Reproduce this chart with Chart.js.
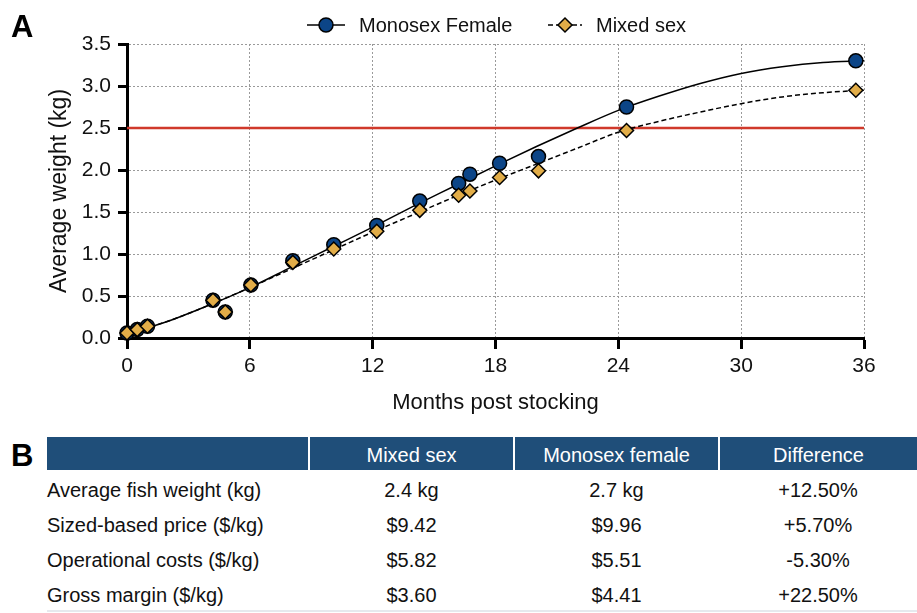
<!DOCTYPE html>
<html>
<head>
<meta charset="utf-8">
<script src="https://cdn.jsdelivr.net/npm/chart.js@4"></script>
<style>
  body { margin: 0; background: #fff; font-family: "Liberation Sans", Arial, sans-serif; }
  #wrap { position: relative; width: 917px; height: 613px; overflow: hidden; }
  #chartBox { position: absolute; left: 0; top: 0; width: 917px; height: 420px; }
  .panel { position: absolute; font-weight: bold; font-size: 31px; color: #000; line-height: 1; }
  table { position: absolute; left: 47px; top: 437px; width: 870px; border-collapse: collapse; font-size: 20px; color: #111; }
  th { background: #1f4e79; color: #fff; font-weight: normal; height: 30px; padding: 3px 0 0 0; border-left: 2px solid #fff; }
  th:first-child { border-left: none; }
  td { height: 29px; padding: 6px 0 0 0; text-align: center; line-height: 23px; }
  td:first-child { text-align: left; }
  tr:last-child td { border-bottom: 2px solid #e6e9ee; }
</style>
</head>
<body>
<div id="wrap">
  <div id="chartBox"><canvas id="growth"></canvas></div>
  <div class="panel" style="left:11px; top:11px;">A</div>
  <div class="panel" style="left:11px; top:440px;">B</div>
  <table id="econ"></table>
</div>
<script>
// observed sampling points (months, kg)
const mixedMonths = [0, 0.5, 1, 4.2, 4.8, 6.05, 8.1, 10.1, 12.2, 14.3, 16.2, 16.75, 18.2, 20.1, 24.4, 35.6];
const mixedWeight = [0.06, 0.1, 0.14, 0.45, 0.31, 0.63, 0.9, 1.06, 1.27, 1.52, 1.7, 1.75, 1.91, 1.99, 2.47, 2.95];
const monoMonths = [0, 0.5, 1, 4.2, 4.8, 6.05, 8.1, 10.1, 12.2, 14.3, 16.2, 16.75, 18.2, 20.1, 24.4, 35.6];
const monoWeight = [0.06, 0.1, 0.14, 0.45, 0.31, 0.63, 0.92, 1.11, 1.34, 1.63, 1.84, 1.95, 2.08, 2.16, 2.75, 3.3];

// fitted growth curves, every 2 months
const curveMonths = [0, 2, 4, 6, 8, 10, 12, 14, 16, 18, 20, 22, 24, 26, 28, 30, 32, 34, 36];
const monoCurve = [0.05, 0.2, 0.39, 0.6, 0.84, 1.08, 1.32, 1.57, 1.81, 2.05, 2.28, 2.5, 2.71, 2.88, 3.03, 3.15, 3.23, 3.28, 3.3];
const mixedCurve = [0.05, 0.2, 0.39, 0.6, 0.82, 1.04, 1.26, 1.47, 1.68, 1.88, 2.07, 2.26, 2.45, 2.58, 2.69, 2.79, 2.87, 2.92, 2.95];

const targetWeight = 2.5;
const xTicks = [0, 6, 12, 18, 24, 30, 36];

// table B
const tableHead = ['', 'Mixed sex', 'Monosex female', 'Difference'];
const rowLabels = ['Average fish weight (kg)', 'Sized-based price ($/kg)', 'Operational costs ($/kg)', 'Gross margin ($/kg)'];
const mixedVals = ['2.4 kg', '$9.42', '$5.82', '$3.60'];
const monoVals = ['2.7 kg', '$9.96', '$5.51', '$4.41'];
const diffVals = ['+12.50%', '+5.70%', '-5.30%', '+22.50%'];

const pts = (xs, ys) => xs.map((x, i) => ({ x: x, y: ys[i] }));

const BLUE = '#0c4587';
const GOLD = '#e2ad48';
const FONT = '"Liberation Sans", Arial, sans-serif';

// legend: line + marker samples, drawn above the plot
const lineLegend = {
    id: 'lineLegend',
    afterDraw(chart) {
        const ctx = chart.ctx;
        const items = [
            { ds: chart.data.datasets[2], mk: chart.data.datasets[1], x: 307, w: 38 },
            { ds: chart.data.datasets[3], mk: chart.data.datasets[0], x: 548, w: 34 }
        ];
        const y = 25;
        ctx.save();
        items.forEach(it => {
            ctx.strokeStyle = '#000';
            ctx.lineWidth = 1.5;
            ctx.setLineDash(it.ds.borderDash || []);
            ctx.beginPath();
            ctx.moveTo(it.x, y);
            ctx.lineTo(it.x + it.w, y);
            ctx.stroke();
            ctx.setLineDash([]);
            ctx.fillStyle = it.mk.backgroundColor;
            ctx.strokeStyle = '#000';
            ctx.lineWidth = 1.5;
            Chart.helpers.drawPoint(ctx, {
                pointStyle: it.mk.pointStyle,
                radius: it.mk.pointRadius,
                borderWidth: 1.5
            }, it.x + it.w / 2, y);
            ctx.fillStyle = '#111';
            ctx.font = '20px ' + FONT;
            ctx.textBaseline = 'middle';
            ctx.fillText(it.ds.label, it.x + it.w + 14, y + 1);
        });
        ctx.restore();
    }
};

new Chart(document.getElementById('growth'), {
    type: 'scatter',
    data: {
        datasets: [
            {
                label: 'Mixed sex points',
                data: pts(mixedMonths, mixedWeight),
                pointStyle: 'rectRot',
                pointRadius: 7,
                backgroundColor: GOLD,
                borderColor: '#000',
                borderWidth: 1.5,
                clip: false,
                order: 0
            },
            {
                label: 'Monosex Female points',
                data: pts(monoMonths, monoWeight),
                pointStyle: 'circle',
                pointRadius: 7,
                backgroundColor: BLUE,
                borderColor: '#000',
                borderWidth: 1.5,
                clip: false,
                order: 1
            },
            {
                label: 'Monosex Female',
                type: 'line',
                data: pts(curveMonths, monoCurve),
                borderColor: '#000',
                borderWidth: 1.5,
                pointRadius: 0,
                cubicInterpolationMode: 'monotone',
                order: 2
            },
            {
                label: 'Mixed sex',
                type: 'line',
                data: pts(curveMonths, mixedCurve),
                borderColor: '#000',
                borderWidth: 1.5,
                borderDash: [5, 3],
                pointRadius: 0,
                cubicInterpolationMode: 'monotone',
                order: 3
            },
            {
                label: 'Target',
                type: 'line',
                data: [{ x: 0, y: targetWeight }, { x: 36, y: targetWeight }],
                borderColor: '#d0392b',
                borderWidth: 2.5,
                pointRadius: 0,
                order: 4
            }
        ]
    },
    options: {
        responsive: true,
        maintainAspectRatio: false,
        animation: false,
        layout: { padding: { left: 0, right: 53, top: 44, bottom: 0 } },
        plugins: { legend: { display: false }, tooltip: { enabled: false } },
        scales: {
            x: {
                type: 'linear',
                min: 0,
                max: 36,
                afterBuildTicks: axis => { axis.ticks = xTicks.map(v => ({ value: v })); },
                afterFit: axis => { axis.height = 82; },
                ticks: { color: '#111', font: { size: 21, family: FONT }, padding: 5 },
                grid: { color: '#9a9a9a', lineWidth: 1, tickColor: '#000', tickWidth: 3, tickLength: 11 },
                border: { color: '#000', width: 3, dash: [2, 2] },
                title: { display: true, text: 'Months post stocking', color: '#111', font: { size: 22, family: FONT }, padding: { top: 0, bottom: 4 } }
            },
            y: {
                min: 0,
                max: 3.5,
                ticks: { stepSize: 0.5, color: '#111', font: { size: 21, family: FONT }, padding: 7, callback: v => v.toFixed(1) },
                afterFit: axis => { axis.width = 127; },
                grid: { color: '#9a9a9a', lineWidth: 1, tickColor: '#000', tickWidth: 3, tickLength: 9 },
                border: { color: '#000', width: 3, dash: [2, 2] },
                title: { display: true, text: 'Average weight (kg)', color: '#111', font: { size: 23, family: FONT }, padding: { top: 46, bottom: 0 } }
            }
        }
    },
    plugins: [lineLegend]
});

// table B built from the arrays
const tbl = document.getElementById('econ');
let html = '<colgroup><col style="width:262px"><col style="width:205px"><col style="width:205px"><col></colgroup>';
html += '<tr>' + tableHead.map(h => '<th>' + h + '</th>').join('') + '</tr>';
rowLabels.forEach((lab, i) => {
    html += '<tr><td>' + lab + '</td><td>' + mixedVals[i] + '</td><td>' + monoVals[i] + '</td><td>' + diffVals[i] + '</td></tr>';
});
tbl.innerHTML = html;
</script>
</body>
</html>
